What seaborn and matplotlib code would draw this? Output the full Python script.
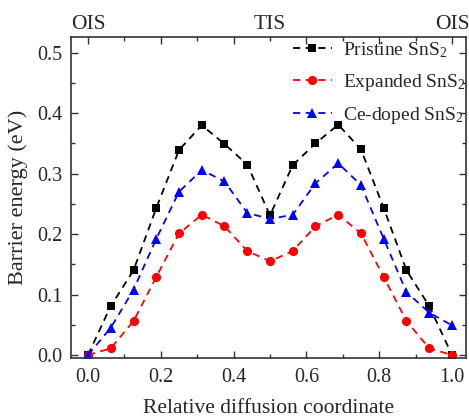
import numpy as np
import pandas as pd
import matplotlib
matplotlib.use("Agg")
import matplotlib.pyplot as plt
from matplotlib.ticker import MultipleLocator, FormatStrFormatter
from matplotlib.lines import Line2D
import seaborn as sns

coord = [0.0, 0.0625, 0.125, 0.1875, 0.25, 0.3125, 0.375, 0.4375, 0.5,
         0.5625, 0.625, 0.6875, 0.75, 0.8125, 0.875, 0.9375, 1.0]
pristine = [0.0, 0.081, 0.140, 0.243, 0.339, 0.380, 0.349, 0.315, 0.231,
            0.314, 0.350, 0.381, 0.340, 0.243, 0.140, 0.081, 0.0]
expanded = [0.0, 0.011, 0.056, 0.129, 0.201, 0.232, 0.213, 0.172, 0.155,
            0.172, 0.213, 0.232, 0.201, 0.129, 0.056, 0.011, 0.0]
cedoped = [0.0, 0.045, 0.108, 0.192, 0.270, 0.306, 0.287, 0.235, 0.225,
           0.232, 0.284, 0.317, 0.281, 0.192, 0.104, 0.070, 0.049]
series_names = ["Pristine SnS$_2$", "Expanded SnS$_2$", "Ce-doped SnS$_2$"]
top_labels = ["OIS", "TIS", "OIS"]
top_positions = [0.0, 0.5, 1.0]

sns.set_theme(style="ticks")
plt.rcParams["font.family"] = ["Liberation Serif", "DejaVu Serif"]
plt.rcParams["mathtext.fontset"] = "custom"
plt.rcParams["mathtext.rm"] = "Liberation Serif"
plt.rcParams["mathtext.it"] = "Liberation Serif:italic"

fig = plt.figure(figsize=(4.69, 4.18), dpi=100)
ax = fig.add_axes([0.1514, 0.1435, 0.8422, 0.768])

colors = ["#000000", "#ff0000", "#0000ff"]
markers = ["s", "o", "^"]
msizes = [5.6, 6.6, 6.6]
dash = (0, (4, 3))

for name, vals, c, m, ms in zip(series_names, [pristine, expanded, cedoped],
                                colors, markers, msizes):
    d = pd.DataFrame({"x": coord, "y": vals})
    sns.lineplot(data=d, x="x", y="y", color=c, marker=m, markersize=ms,
                 markeredgewidth=0, linewidth=1.3, linestyle=dash, ax=ax,
                 sort=False, legend=False)

ax.set_xlim(-0.0467, 1.0385)
ax.set_ylim(-0.005, 0.526)
ax.xaxis.set_major_locator(MultipleLocator(0.2))
ax.xaxis.set_minor_locator(MultipleLocator(0.1))
ax.yaxis.set_major_locator(MultipleLocator(0.1))
ax.yaxis.set_minor_locator(MultipleLocator(0.05))
ax.xaxis.set_major_formatter(FormatStrFormatter("%.1f"))
ax.yaxis.set_major_formatter(FormatStrFormatter("%.1f"))
ax.tick_params(which="both", direction="in", top=True, right=True, color="#333333")
ax.tick_params(which="major", length=5, width=1, labelsize=14.5)
ax.tick_params(axis="x", which="major", pad=7)
ax.tick_params(axis="y", which="major", pad=6)
ax.tick_params(which="minor", length=3, width=1)
for s in ax.spines.values():
    s.set_linewidth(1.2)
    s.set_color("#333333")

ax.set_xlabel("Relative diffusion coordinate", fontsize=15.5, labelpad=8.5)
ax.set_ylabel("Barrier energy (eV)", fontsize=16, labelpad=7)

for lab, pos in zip(top_labels, top_positions):
    ax.text(pos, 1.025, lab, transform=ax.get_xaxis_transform(),
            ha="center", va="baseline", fontsize=15.5)

handles = [Line2D([], [], color=c, marker=m, linestyle=dash, markersize=ms,
                  markeredgewidth=0, linewidth=1.3)
           for c, m, ms in zip(colors, markers, msizes)]
fig.legend(handles, series_names, loc="upper left",
           bbox_to_anchor=(293 / 469, 1 - 40 / 418), bbox_transform=fig.transFigure,
           frameon=False, fontsize=14, handlelength=2.0, labelspacing=0.62,
           handletextpad=0.57, borderaxespad=0, borderpad=0)

fig.savefig("out.png", dpi=100)
